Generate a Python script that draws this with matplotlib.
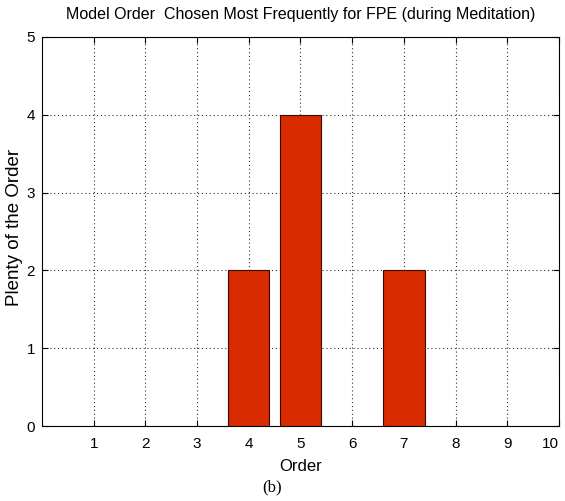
import matplotlib
matplotlib.use("Agg")
import matplotlib.pyplot as plt

orders = [4, 5, 7]
counts = [2, 4, 2]
x_ticks = [1, 2, 3, 4, 5, 6, 7, 8, 9, 10]
y_ticks = [0, 1, 2, 3, 4, 5]

sans = "Liberation Sans"

fig = plt.figure(figsize=(5.65, 5.01), dpi=100)
ax = fig.add_axes([0.0743, 0.1497, 0.915, 0.7765])

ax.bar(orders, counts, width=0.8, color="#d92b00", edgecolor="#3a0a00", linewidth=0.8, zorder=3)

ax.set_xlim(0, 10)
ax.set_ylim(0, 5)
ax.set_xticks(x_ticks)
ax.set_yticks(y_ticks)
ax.grid(True, linestyle=(0, (1, 2.5)), color="#333333", linewidth=0.8, zorder=0)
ax.set_axisbelow(True)
ax.tick_params(direction="in", top=True, right=True, length=4, labelsize=11)
ax.tick_params(axis="x", pad=8)
ax.tick_params(axis="y", pad=5)
for lab in ax.get_xticklabels() + ax.get_yticklabels():
    lab.set_family(sans)
for s in ax.spines.values():
    s.set_linewidth(0.8)

# keep the right-most tick label inside the canvas
xt = ax.get_xticklabels()
xt[-1].set_horizontalalignment("right")
xt[-1].set_x(10.09)

ax.set_title("Model Order  Chosen Most Frequently for FPE (during Meditation)",
             family=sans, fontsize=11.5, pad=13)
ax.set_xlabel("Order", family=sans, fontsize=12, labelpad=6)
ax.set_ylabel("Plenty of the Order", family=sans, fontsize=13.5)
ax.yaxis.set_label_coords(-0.037, 0.51)
fig.text(0.482, 0.012, "(b)", family="Liberation Serif", fontsize=12, ha="center", va="bottom")

fig.savefig("out.png", dpi=100)
